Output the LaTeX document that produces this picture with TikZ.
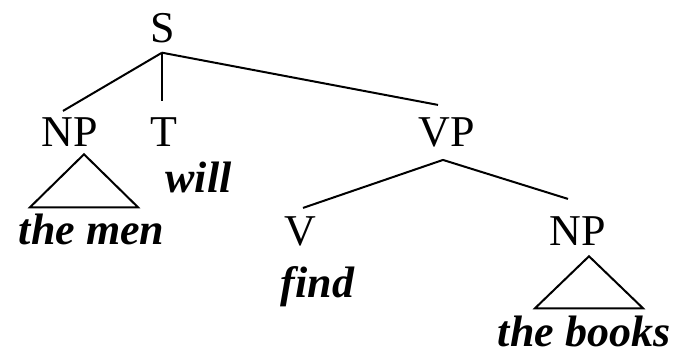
\documentclass[tikz,border=0pt]{standalone}
\usepackage{fontspec}
\setmainfont{Liberation Serif}
\newfontfamily\wordfont{Liberation Serif Bold Italic}
\tikzset{
  cat/.style={inner sep=0pt, anchor=base, font=\fontsize{33}{40}\selectfont},
  word/.style={inner sep=0pt, anchor=base, font=\fontsize{33}{40}\selectfont\wordfont},
  branch/.style={line width=1.5pt}
}
\begin{document}
\begin{tikzpicture}[x=0.75pt,y=-0.75pt]
\useasboundingbox (0,0) rectangle (678,356);
% categories
\node[cat] (S) at (163,43) {S};
\node[cat] (np1) at (70,147) {NP};
\node[cat] (T) at (164,147) {T};
\node[cat] (VP) at (447,147) {VP};
\node[cat] (V) at (300,245) {V};
\node[cat] (np2) at (578,245) {NP};
% words
\node[word] (men) at (91.5,244) {the men};
\node[word] (will) at (198.5,193) {will};
\node[word] (find) at (317.5,297) {find};
\node[word] (books) at (584,346) {the books};
% branches
\draw[branch] ([xshift=-0.75pt,yshift=-6.75pt]S.south) -- ([xshift=-5.25pt,yshift=5.25pt]np1.north);
\draw[branch] ([xshift=-0.75pt,yshift=-6.75pt]S.south) -- ([xshift=-1.5pt,yshift=12.75pt]T.north);
\draw[branch] ([xshift=-0.75pt,yshift=-6.75pt]S.south) -- ([xshift=-6.75pt,yshift=9.75pt]VP.north);
\draw[branch] ([xshift=-3pt,yshift=-9pt]VP.south) -- ([xshift=2.25pt,yshift=6pt]V.north);
\draw[branch] ([xshift=-3pt,yshift=-9pt]VP.south) -- ([xshift=-7.5pt,yshift=12.75pt]np2.north);
% triangles
\draw[branch] ([xshift=10.5pt,yshift=-5.25pt]np1.south) -- ++(-54,53) -- ++(108,0) -- cycle;
\draw[branch] ([xshift=8.25pt,yshift=-8.25pt]np2.south) -- ++(-54,52) -- ++(108,0) -- cycle;
\end{tikzpicture}
\end{document}
